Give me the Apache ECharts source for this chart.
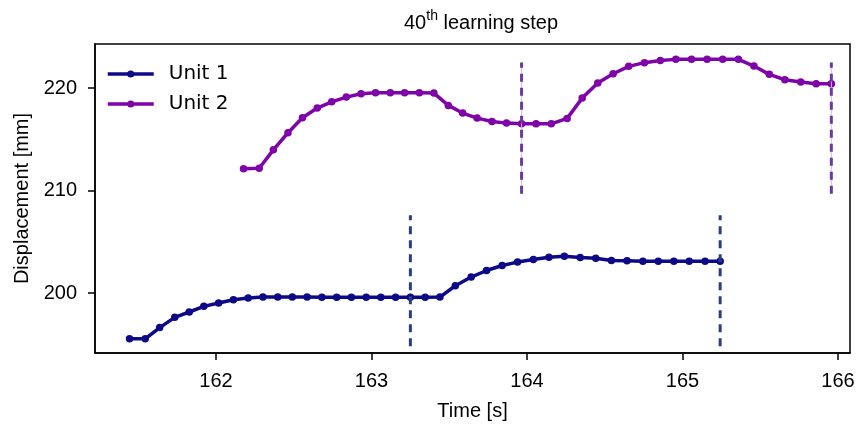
<!DOCTYPE html>
<html>
<head>
<meta charset="utf-8">
<script src="https://cdn.jsdelivr.net/npm/echarts@6/dist/echarts.min.js"></script>
<style>html,body{margin:0;padding:0;background:#fff;}#c{width:867px;height:427px;}</style>
</head>
<body>
<div id="c"></div>
<script>
// ---- data ----
const unit1Time = [161.444,161.545,161.638,161.735,161.828,161.922,162.017,162.112,162.207,162.302,162.397,162.491,162.586,162.681,162.776,162.871,162.966,163.060,163.155,163.250,163.345,163.440,163.539,163.641,163.740,163.840,163.939,164.041,164.141,164.240,164.342,164.442,164.543,164.643,164.745,164.844,164.944,165.043,165.145,165.242];
const unit1Disp = [195.53,195.53,196.63,197.63,198.15,198.70,199.03,199.35,199.51,199.61,199.61,199.61,199.61,199.58,199.58,199.58,199.58,199.58,199.58,199.58,199.58,199.61,200.71,201.56,202.20,202.69,203.02,203.27,203.50,203.60,203.47,203.40,203.18,203.15,203.11,203.11,203.11,203.11,203.11,203.11];
const unit2Time = [162.177,162.278,162.369,162.463,162.556,162.651,162.744,162.838,162.933,163.026,163.121,163.213,163.308,163.401,163.494,163.586,163.679,163.775,163.868,163.965,164.058,164.156,164.258,164.355,164.455,164.554,164.654,164.755,164.857,164.957,165.058,165.158,165.258,165.359,165.459,165.558,165.658,165.760,165.859,165.957];
const unit2Disp = [212.12,212.18,213.97,215.64,217.10,218.05,218.66,219.12,219.45,219.54,219.54,219.54,219.54,219.51,218.31,217.56,217.07,216.74,216.58,216.51,216.51,216.51,217.04,219.02,220.49,221.40,222.12,222.48,222.70,222.80,222.80,222.80,222.80,222.80,222.15,221.34,220.81,220.59,220.42,220.42];
const unit1Marks = [163.250, 165.242];
const unit1MarkRange = [194.8, 207.6];
const unit2Marks = [163.965, 165.957];
const unit2MarkRange = [209.7, 222.5];
const xTicks = [162, 163, 164, 165, 166];
const yTicks = [200, 210, 220];
const seriesNames = ['Unit 1', 'Unit 2'];

const c1 = '#0d0887', c2 = '#7e03a8';
const d1 = '#2a3f80', d2 = '#6c3a9c';
const pair = (ts, vs) => ts.map((t, i) => [t, vs[i]]);

const series = [
  { name: seriesNames[0], type: 'line', data: pair(unit1Time, unit1Disp), symbol: 'circle', symbolSize: 7.5,
    itemStyle: { color: c1 }, lineStyle: { color: c1, width: 3.5 }, z: 3, animation: false },
  { name: seriesNames[1], type: 'line', data: pair(unit2Time, unit2Disp), symbol: 'circle', symbolSize: 7.5,
    itemStyle: { color: c2 }, lineStyle: { color: c2, width: 3.5 }, z: 3, animation: false }
];
unit2Marks.forEach(t => {
  series.push({ type: 'line', data: [[t, unit2MarkRange[0]], [t, unit2MarkRange[1]]], symbol: 'none',
    lineStyle: { color: '#c4c4dc', width: 1 }, z: 4, silent: true, animation: false });
});
unit1Marks.forEach(t => {
  series.push({ type: 'line', data: [[t, unit1MarkRange[0]], [t, unit1MarkRange[1]]], symbol: 'none',
    lineStyle: { color: d1, width: 3, type: [8, 6] }, z: 5, silent: true, animation: false });
});
unit2Marks.forEach(t => {
  series.push({ type: 'line', data: [[t, unit2MarkRange[0]], [t, unit2MarkRange[1]]], symbol: 'none',
    lineStyle: { color: d2, width: 3, type: [8, 6] }, z: 5, silent: true, animation: false });
});

const chart = echarts.init(document.getElementById('c'), null, { renderer: 'canvas' });
chart.setOption({
  animation: false,
  title: {
    text: '{a|40}{s|th}{a| learning step}',
    left: 476, top: 4, textAlign: 'center',
    textStyle: {
      fontWeight: 'normal',
      rich: {
        a: { fontFamily: 'Liberation Sans', fontSize: 20, fontWeight: 'normal', color: '#000', verticalAlign: 'bottom', lineHeight: 24 },
        s: { fontFamily: 'Liberation Sans', fontSize: 14, fontWeight: 'normal', color: '#000', verticalAlign: 'top', lineHeight: 24, padding: [0, 0, 9, 0] }
      }
    }
  },
  legend: {
    data: seriesNames, left: 101, top: 58, orient: 'vertical',
    itemWidth: 46, itemHeight: 9, itemGap: 8,
    lineStyle: { width: 3.5 },
    textStyle: { fontFamily: 'DejaVu Sans', fontSize: 20, lineHeight: 22, color: '#000', padding: [0, 0, 0, 10] }
  },
  grid: { left: 95, right: 17, top: 44, bottom: 74, show: true, borderColor: '#000', borderWidth: 1.5 },
  xAxis: {
    type: 'value', min: 161.222, max: 166.077,
    splitLine: { show: false },
    axisLine: { lineStyle: { color: '#000', width: 1.5 } },
    axisTick: { customValues: xTicks, length: 7, lineStyle: { color: '#000', width: 1.5 } },
    axisLabel: { customValues: xTicks, fontFamily: 'Liberation Sans', fontSize: 20, color: '#000', margin: 18 },
    name: 'Time [s]', nameLocation: 'middle', nameGap: 48,
    nameTextStyle: { fontFamily: 'Liberation Sans', fontSize: 20, color: '#000' }
  },
  yAxis: {
    type: 'value', min: 194.15, max: 224.3,
    splitLine: { show: false },
    axisLine: { lineStyle: { color: '#000', width: 1.5 } },
    axisTick: { customValues: yTicks, length: 7, lineStyle: { color: '#000', width: 1.5 } },
    axisLabel: { customValues: yTicks, fontFamily: 'Liberation Sans', fontSize: 20, color: '#000', margin: 18 },
    name: 'Displacement [mm]', nameLocation: 'middle', nameGap: 63,
    nameTextStyle: { fontFamily: 'Liberation Sans', fontSize: 20, color: '#000' }
  },
  series: series
});
</script>
</body>
</html>
